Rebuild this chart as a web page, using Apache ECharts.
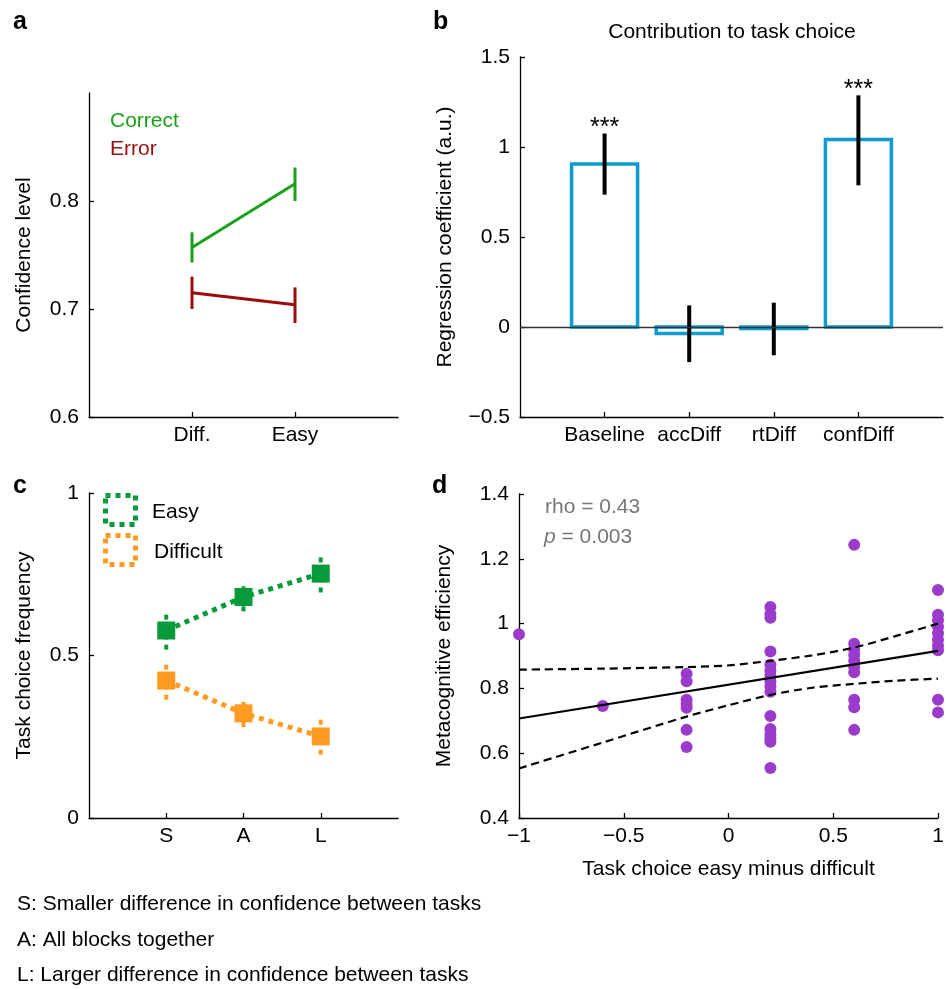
<!DOCTYPE html>
<html><head><meta charset="utf-8">
<script src="https://cdn.jsdelivr.net/npm/echarts@6/dist/echarts.min.js"></script>
<style>html,body{margin:0;padding:0;background:#fff}#main{width:947px;height:990px}</style>
</head><body><div id="main"></div>
<script>
// ---------------- Panel a data ----------------
const aCategories = ['Diff.', 'Easy'];
const aYTicks = [0.6, 0.7, 0.8];
const aCorrect = [0.757, 0.816];
const aCorrectLo = [0.743, 0.800];
const aCorrectHi = [0.771, 0.831];
const aError = [0.715, 0.704];
const aErrorLo = [0.700, 0.687];
const aErrorHi = [0.730, 0.720];

// ---------------- Panel b data ----------------
const bCategories = ['Baseline', 'accDiff', 'rtDiff', 'confDiff'];
const bYTicks = [-0.5, 0, 0.5, 1, 1.5];
const bCoef = [0.905, -0.036, -0.008, 1.042];
const bLo = [0.735, -0.195, -0.157, 0.787];
const bHi = [1.075, 0.120, 0.135, 1.287];
const bStars = ['***', '', '', '***'];

// ---------------- Panel c data ----------------
const cCategories = ['S', 'A', 'L'];
const cYTicks = [0, 0.5, 1];
const cEasy = [0.577, 0.680, 0.752];
const cEasyLo = [0.518, 0.636, 0.694];
const cEasyHi = [0.636, 0.723, 0.807];
const cDiff = [0.423, 0.322, 0.251];
const cDiffLo = [0.364, 0.280, 0.195];
const cDiffHi = [0.482, 0.364, 0.308];

// ---------------- Panel d data ----------------
const dXLevels = [-1, -0.6, -0.2, 0.2, 0.6, 1];
const dYGroups = [
  [0.967],
  [0.746],
  [0.845, 0.822, 0.765, 0.752, 0.740, 0.672, 0.619],
  [1.051, 1.030, 1.018, 0.914, 0.873, 0.855, 0.838, 0.822, 0.806, 0.790, 0.715, 0.675, 0.658, 0.645, 0.635, 0.554],
  [1.243, 0.938, 0.920, 0.903, 0.885, 0.866, 0.850, 0.765, 0.742, 0.672],
  [1.104, 1.027, 1.010, 0.990, 0.970, 0.950, 0.932, 0.918, 0.765, 0.726]
];
const dFitX = [-1, 1];
const dFitY = [0.707, 0.916];
const dCIX = [-1, -0.6, -0.2, 0, 0.2, 0.4, 0.6, 0.8, 1];
const dCIUpper = [0.858, 0.861, 0.866, 0.871, 0.885, 0.902, 0.926, 0.962, 1.000];
const dCILower = [0.553, 0.633, 0.713, 0.748, 0.780, 0.802, 0.814, 0.824, 0.830];
const dStats = ['rho = 0.43', '0.003'];

// ---------------- Footnotes ----------------
const footnotes = [
  'S: Smaller difference in confidence between tasks',
  'A: All blocks together',
  'L: Larger difference in confidence between tasks'
];

// ---------------- Styling ----------------
const FONT = '"Liberation Sans", Arial, Helvetica, sans-serif';
const FS = 21;
const GREEN_A = '#19a219', RED_A = '#9b0c0c';
const BLUE = '#0e9bd0';
const GREEN_C = '#079a3a', ORANGE_C = '#ff9b21';
const PURPLE = '#9b3bcc';

function fmtNum(v) {
  const r = Math.round(v * 100) / 100;
  const s = String(Math.abs(r));
  return r < 0 ? '\u2212' + s : s;
}
const axisLine = { show: true, onZero: false, lineStyle: { color: '#000', width: 1.3 } };
function tick(vals) {
  const t = { show: true, inside: true, length: 5, lineStyle: { color: '#000', width: 1.3 } };
  if (vals) t.customValues = vals;
  return t;
}
function lab(vals, fmt, margin) {
  const l = { color: '#000', fontSize: FS, fontFamily: FONT, margin: margin, formatter: fmt, hideOverlap: false, showMinLabel: true, showMaxLabel: true };
  if (vals) l.customValues = vals;
  return l;
}
const nameStyle = { color: '#000', fontSize: FS, fontFamily: FONT };

function errorBars(ax, xs, lo, hi, color, width, dash) {
  return {
    type: 'custom', xAxisIndex: ax, yAxisIndex: ax, silent: true, clip: false,
    data: xs.map((x, i) => [x, lo[i], hi[i]]),
    renderItem: (params, api) => {
      const p1 = api.coord([api.value(0), api.value(1)]);
      const p2 = api.coord([api.value(0), api.value(2)]);
      return { type: 'line', shape: { x1: p1[0], y1: p1[1], x2: p2[0], y2: p2[1] },
        style: { stroke: color, lineWidth: width, lineDash: dash || null, lineCap: 'butt' } };
    }
  };
}

const aPos = aCategories.map((_, i) => i + 1);
const bPos = bCategories.map((_, i) => i + 1);
const cPos = cCategories.map((_, i) => i + 1);

const dScatter = [];
dXLevels.forEach((x, i) => dYGroups[i].forEach(y => dScatter.push([x, y])));

const chart = echarts.init(document.getElementById('main'), null, { renderer: 'canvas' });

const option = {
  animation: false,
  backgroundColor: '#fff',
  grid: [
    { left: 89, top: 93, width: 309, height: 324 },
    { left: 520, top: 57, width: 423, height: 360 },
    { left: 89, top: 493, width: 309, height: 325 },
    { left: 519, top: 494, width: 419, height: 324 }
  ],
  xAxis: [
    { gridIndex: 0, type: 'value', min: 0, max: 3, interval: 1, axisLine, splitLine: { show: false },
      axisTick: tick(aPos), axisLabel: lab(aPos, v => aCategories[Math.round(v) - 1] || '', 8) },
    { gridIndex: 1, type: 'value', min: 0, max: 5, interval: 1, axisLine, splitLine: { show: false },
      axisTick: tick(bPos), axisLabel: lab(bPos, v => bCategories[Math.round(v) - 1] || '', 8) },
    { gridIndex: 2, type: 'value', min: 0, max: 4, interval: 1, axisLine, splitLine: { show: false },
      axisTick: tick(cPos), axisLabel: lab(cPos, v => cCategories[Math.round(v) - 1] || '', 8) },
    { gridIndex: 3, type: 'value', min: -1, max: 1, interval: 0.5, axisLine, splitLine: { show: false },
      axisTick: tick(), axisLabel: lab(null, fmtNum, 8),
      name: 'Task choice easy minus difficult', nameLocation: 'middle', nameGap: 41, nameTextStyle: nameStyle }
  ],
  yAxis: [
    { gridIndex: 0, type: 'value', min: 0.6, max: 0.9, interval: 0.1, axisLine, splitLine: { show: false },
      axisTick: tick(aYTicks), axisLabel: lab(aYTicks, v => v.toFixed(1), 10),
      name: 'Confidence level', nameLocation: 'middle', nameGap: 54, nameTextStyle: nameStyle },
    { gridIndex: 1, type: 'value', min: -0.5, max: 1.5, interval: 0.5, axisLine, splitLine: { show: false },
      axisTick: tick(bYTicks), axisLabel: lab(bYTicks, fmtNum, 10),
      name: 'Regression coefficient (a.u.)', nameLocation: 'middle', nameGap: 64, nameTextStyle: nameStyle },
    { gridIndex: 2, type: 'value', min: 0, max: 1, interval: 0.5, axisLine, splitLine: { show: false },
      axisTick: tick(cYTicks), axisLabel: lab(cYTicks, fmtNum, 10),
      name: 'Task choice frequency', nameLocation: 'middle', nameGap: 54, nameTextStyle: nameStyle },
    { gridIndex: 3, type: 'value', min: 0.4, max: 1.4, interval: 0.2, axisLine, splitLine: { show: false },
      axisTick: tick(), axisLabel: lab(null, fmtNum, 10),
      name: 'Metacognitive efficiency', nameLocation: 'middle', nameGap: 64, nameTextStyle: nameStyle }
  ],
  series: [
    // ---- panel a ----
    { type: 'line', xAxisIndex: 0, yAxisIndex: 0, data: aPos.map((x, i) => [x, aCorrect[i]]),
      symbol: 'none', lineStyle: { color: GREEN_A, width: 3 }, silent: true },
    { type: 'line', xAxisIndex: 0, yAxisIndex: 0, data: aPos.map((x, i) => [x, aError[i]]),
      symbol: 'none', lineStyle: { color: RED_A, width: 3 }, silent: true },
    errorBars(0, aPos, aCorrectLo, aCorrectHi, GREEN_A, 3),
    errorBars(0, aPos, aErrorLo, aErrorHi, RED_A, 3),
    // ---- panel b ----
    { type: 'line', xAxisIndex: 1, yAxisIndex: 1, data: [], silent: true,
      markLine: { silent: true, symbol: 'none', label: { show: false },
        lineStyle: { color: '#333', width: 1.3, type: 'solid' }, data: [{ yAxis: 0 }] } },
    { type: 'custom', xAxisIndex: 1, yAxisIndex: 1, silent: true, clip: false,
      data: bPos.map((x, i) => [x, bCoef[i]]),
      renderItem: (params, api) => {
        const x = api.value(0), v = api.value(1);
        const p1 = api.coord([x - 0.39, Math.max(v, 0)]);
        const p2 = api.coord([x + 0.39, Math.min(v, 0)]);
        return { type: 'rect', shape: { x: p1[0], y: p1[1], width: p2[0] - p1[0], height: p2[1] - p1[1] },
          style: { fill: '#fff', stroke: BLUE, lineWidth: 3.5 } };
      } },
    errorBars(1, bPos, bLo, bHi, '#000', 4),
    { type: 'custom', xAxisIndex: 1, yAxisIndex: 1, silent: true, clip: false,
      data: bPos.map((x, i) => [x, bHi[i], i]),
      renderItem: (params, api) => {
        const p = api.coord([api.value(0), api.value(1)]);
        return { type: 'text', x: p[0], y: p[1] - 5,
          style: { text: bStars[api.value(2)], textAlign: 'center', textVerticalAlign: 'middle',
            font: '25px ' + FONT, fill: '#000' } };
      } },
    // ---- panel c ----
    errorBars(2, cPos, cEasyLo, cEasyHi, GREEN_C, 4, [5, 5]),
    errorBars(2, cPos, cDiffLo, cDiffHi, ORANGE_C, 4, [5, 5]),
    { type: 'line', xAxisIndex: 2, yAxisIndex: 2, data: cPos.map((x, i) => [x, cEasy[i]]),
      symbol: 'rect', symbolSize: 18, showSymbol: true, silent: true,
      itemStyle: { color: GREEN_C }, lineStyle: { color: GREEN_C, width: 5, type: [5, 5], cap: 'butt' } },
    { type: 'line', xAxisIndex: 2, yAxisIndex: 2, data: cPos.map((x, i) => [x, cDiff[i]]),
      symbol: 'rect', symbolSize: 18, showSymbol: true, silent: true,
      itemStyle: { color: ORANGE_C }, lineStyle: { color: ORANGE_C, width: 5, type: [5, 5], cap: 'butt' } },
    { type: 'scatter', xAxisIndex: 2, yAxisIndex: 2, silent: true, symbol: 'rect', symbolSize: 7,
      itemStyle: { color: '#000' },
      data: cPos.map((x, i) => [x, cEasy[i]]).concat(cPos.map((x, i) => [x, cDiff[i]])) },
    // ---- panel d ----
    { type: 'scatter', xAxisIndex: 3, yAxisIndex: 3, silent: true, symbolSize: 12, clip: false,
      itemStyle: { color: PURPLE, opacity: 1 }, data: dScatter },
    { type: 'line', xAxisIndex: 3, yAxisIndex: 3, silent: true, symbol: 'none',
      lineStyle: { color: '#000', width: 2.2 }, data: dFitX.map((x, i) => [x, dFitY[i]]) },
    { type: 'line', xAxisIndex: 3, yAxisIndex: 3, silent: true, symbol: 'none', smooth: 0.3,
      lineStyle: { color: '#000', width: 2.2, type: [8, 5] }, data: dCIX.map((x, i) => [x, dCIUpper[i]]) },
    { type: 'line', xAxisIndex: 3, yAxisIndex: 3, silent: true, symbol: 'none', smooth: 0.3,
      lineStyle: { color: '#000', width: 2.2, type: [8, 5] }, data: dCIX.map((x, i) => [x, dCILower[i]]) }
  ],
  graphic: [
    // panel labels
    { type: 'text', x: 13, y: 22, style: { text: 'a', font: 'bold 25px ' + FONT, fill: '#000', textVerticalAlign: 'middle' } },
    { type: 'text', x: 433, y: 22, style: { text: 'b', font: 'bold 25px ' + FONT, fill: '#000', textVerticalAlign: 'middle' } },
    { type: 'text', x: 13, y: 486, style: { text: 'c', font: 'bold 25px ' + FONT, fill: '#000', textVerticalAlign: 'middle' } },
    { type: 'text', x: 432, y: 486, style: { text: 'd', font: 'bold 25px ' + FONT, fill: '#000', textVerticalAlign: 'middle' } },
    // title b
    { type: 'text', x: 732, y: 32, style: { text: 'Contribution to task choice', font: FS + 'px ' + FONT, fill: '#000', textAlign: 'center', textVerticalAlign: 'middle' } },
    // legend a
    { type: 'text', x: 110, y: 121, style: { text: 'Correct', font: FS + 'px ' + FONT, fill: GREEN_A, textVerticalAlign: 'middle' } },
    { type: 'text', x: 110, y: 149, style: { text: 'Error', font: FS + 'px ' + FONT, fill: RED_A, textVerticalAlign: 'middle' } },
    // legend c
    { type: 'rect', shape: { x: 105.5, y: 495.5, width: 30, height: 29 }, style: { fill: 'none', stroke: GREEN_C, lineWidth: 5, lineDash: [5, 5] } },
    { type: 'rect', shape: { x: 105.5, y: 535.5, width: 30, height: 29 }, style: { fill: 'none', stroke: ORANGE_C, lineWidth: 5, lineDash: [5, 5] } },
    { type: 'text', x: 152, y: 512, style: { text: 'Easy', font: FS + 'px ' + FONT, fill: '#000', textVerticalAlign: 'middle' } },
    { type: 'text', x: 154, y: 552, style: { text: 'Difficult', font: FS + 'px ' + FONT, fill: '#000', textVerticalAlign: 'middle' } },
    // stats d
    { type: 'text', x: 545, y: 507, style: { text: dStats[0], font: FS + 'px ' + FONT, fill: '#777', textVerticalAlign: 'middle' } },
    { type: 'text', x: 544, y: 537, style: { text: '{i|p}{n| = ' + dStats[1] + '}', fill: '#777', textVerticalAlign: 'middle',
      rich: { i: { fontStyle: 'italic', fontSize: FS, fontFamily: FONT, fill: '#777' }, n: { fontSize: FS, fontFamily: FONT, fill: '#777' } } } },
    // footnotes
    ...footnotes.map((t, i) => ({ type: 'text', x: 17, y: [904.5, 940.5, 975.5][i],
      style: { text: t, font: FS + 'px ' + FONT, fill: '#000', textVerticalAlign: 'middle' } }))
  ]
};
chart.setOption(option);
</script></body></html>
